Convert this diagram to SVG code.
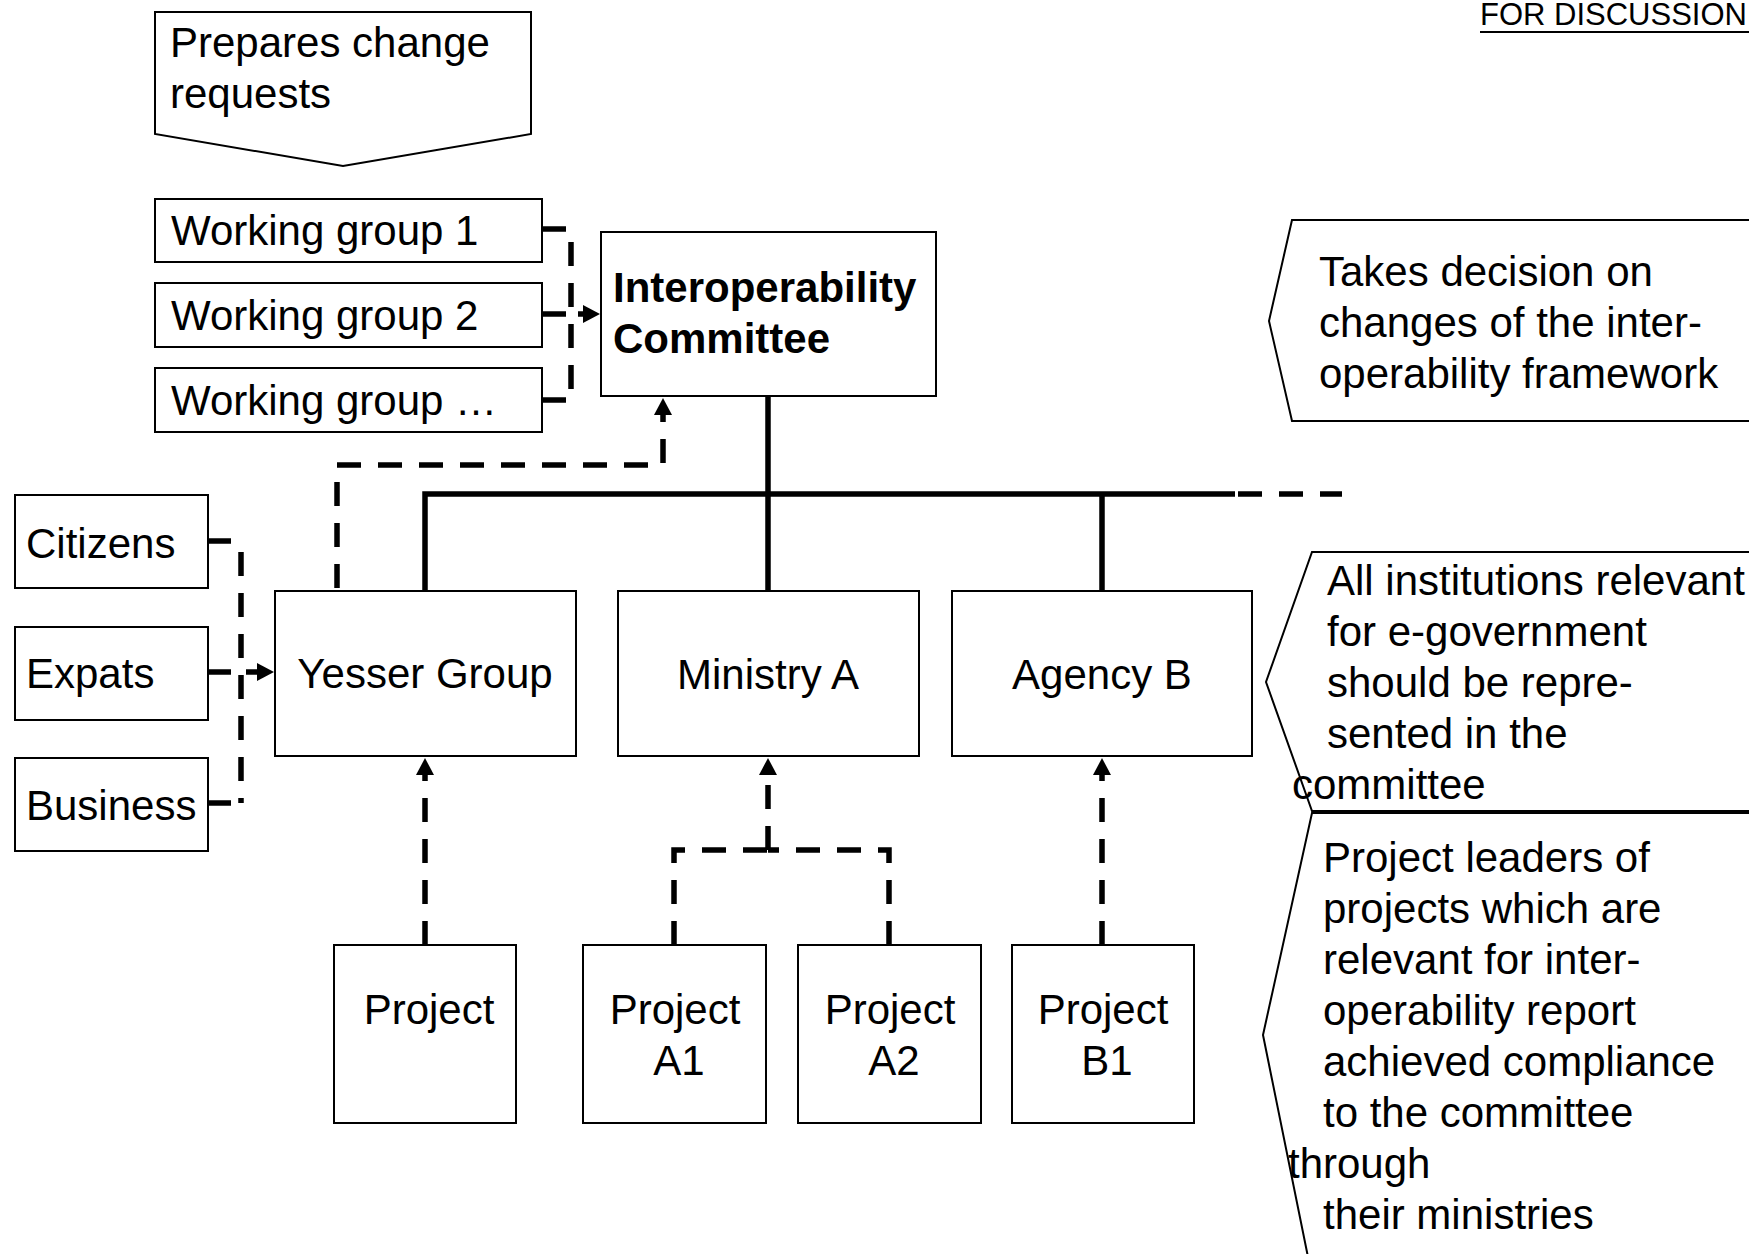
<svg xmlns="http://www.w3.org/2000/svg" width="1749" height="1254" viewBox="0 0 1749 1254">
  <style>
    .box { fill: #ffffff; stroke: #000000; stroke-width: 2; }
    .callout { fill: #ffffff; stroke: #000000; stroke-width: 2; }
    .t { font-family: "Liberation Sans", Arial, sans-serif; font-size: 42px; fill: #000000; }
    .c { text-anchor: middle; }
    .b { font-weight: bold; }
    .solid { fill: none; stroke: #000000; stroke-width: 5.5; }
    .dash { fill: none; stroke: #000000; stroke-width: 5.5; stroke-dasharray: 24 17; }
  </style>
  <defs>
    <marker id="arrow" markerUnits="userSpaceOnUse" markerWidth="18" markerHeight="18" refX="0" refY="9" orient="auto" overflow="visible">
      <path d="M0,0 L17,9 L0,18 z" fill="#000000"/>
    </marker>
  </defs>

  <rect x="0" y="0" width="1749" height="1254" fill="#ffffff"/>

  <!-- header -->
  <g id="header">
    <text x="1480" y="25" font-family="Liberation Sans, Arial, sans-serif" font-size="31" fill="#000000">FOR DISCUSSION</text>
    <line x1="1480" y1="32" x2="1749" y2="32" stroke="#000000" stroke-width="2"/>
    <text x="1728" y="1268" font-family="Liberation Sans, Arial, sans-serif" font-size="26" fill="#000000">22</text>
  </g>

  <!-- annotation callouts -->
  <g id="note-prepares">
    <polygon class="callout" points="155,12 531,12 531,134 343,166 155,134"/>
    <text class="t" x="170" y="57">Prepares change</text>
    <text class="t" x="170" y="108">requests</text>
  </g>
  <g id="note-decision">
    <polygon class="callout" points="1292,220 1760,220 1760,421 1292,421 1269,321"/>
    <text class="t" x="1319" y="286">Takes decision on</text>
    <text class="t" x="1319" y="337">changes of the inter-</text>
    <text class="t" x="1319" y="388">operability framework</text>
  </g>
  <g id="note-institutions">
    <polygon class="callout" points="1312,552 1760,552 1760,811 1312,811 1266,682"/>
    <text class="t" x="1327" y="595">All institutions relevant</text>
    <text class="t" x="1327" y="646">for e-government</text>
    <text class="t" x="1327" y="697">should be repre-</text>
    <text class="t" x="1327" y="748">sented in the</text>
    <text class="t" x="1292" y="799">committee</text>
  </g>
  <g id="note-projects">
    <polygon class="callout" points="1312,813 1760,813 1760,1257 1308,1257 1263,1035"/>
    <text class="t" x="1323" y="872">Project leaders of</text>
    <text class="t" x="1323" y="923">projects which are</text>
    <text class="t" x="1323" y="974">relevant for inter-</text>
    <text class="t" x="1323" y="1025">operability report</text>
    <text class="t" x="1323" y="1076">achieved compliance</text>
    <text class="t" x="1323" y="1127">to the committee</text>
    <text class="t" x="1288" y="1178">through</text>
    <text class="t" x="1323" y="1229">their ministries</text>
  </g>

  <!-- connectors -->
  <g id="connectors">
    <!-- working groups into the committee -->
    <path class="solid" d="M543,229 H566 M543,314 H566 M543,400 H566"/>
    <line class="dash" x1="571" y1="242" x2="571" y2="390"/>
    <path class="solid" d="M578,314 H583" marker-end="url(#arrow)"/>
    <!-- citizens / expats / business into Yesser Group -->
    <path class="solid" d="M208,541 H231 M208,672 H231 M208,803 H231"/>
    <line class="dash" x1="241" y1="552" x2="241" y2="803"/>
    <path class="solid" d="M246,672 H257" marker-end="url(#arrow)"/>
    <!-- Yesser Group up to the committee -->
    <path class="dash" stroke-dashoffset="-3" d="M337,591 V465 H663 V415" marker-end="url(#arrow)"/>
    <!-- committee hierarchy -->
    <path class="solid" d="M768,396 V494 M425,591 V494 H1235 M768,494 V591 M1102,494 V591"/>
    <path class="dash" stroke-dasharray="24 18" d="M1238,494 H1342"/>
    <!-- projects up to their owners -->
    <path class="dash" d="M425,945 V775" marker-end="url(#arrow)"/>
    <path class="dash" d="M674,945 V850 H768 M889,945 V850 H768"/>
    <path class="dash" d="M768,850 V775" marker-end="url(#arrow)"/>
    <path class="dash" d="M1102,945 V775" marker-end="url(#arrow)"/>
  </g>

  <!-- nodes -->
  <g id="wg1">
    <rect class="box" x="155" y="199" width="387" height="63"/>
    <text class="t" x="171" y="245">Working group 1</text>
  </g>
  <g id="wg2">
    <rect class="box" x="155" y="283" width="387" height="64"/>
    <text class="t" x="171" y="330">Working group 2</text>
  </g>
  <g id="wg3">
    <rect class="box" x="155" y="368" width="387" height="64"/>
    <text class="t" x="171" y="415">Working group …</text>
  </g>
  <g id="committee">
    <rect class="box" x="601" y="232" width="335" height="164"/>
    <text class="t b" x="613" y="302">Interoperability</text>
    <text class="t b" x="613" y="353">Committee</text>
  </g>
  <g id="citizens">
    <rect class="box" x="15" y="495" width="193" height="93"/>
    <text class="t" x="26" y="558">Citizens</text>
  </g>
  <g id="expats">
    <rect class="box" x="15" y="627" width="193" height="93"/>
    <text class="t" x="26" y="688">Expats</text>
  </g>
  <g id="business">
    <rect class="box" x="15" y="758" width="193" height="93"/>
    <text class="t" x="26" y="820">Business</text>
  </g>
  <g id="yesser">
    <rect class="box" x="275" y="591" width="301" height="165"/>
    <text class="t c" x="425" y="688">Yesser Group</text>
  </g>
  <g id="ministry-a">
    <rect class="box" x="618" y="591" width="301" height="165"/>
    <text class="t c" x="768" y="689">Ministry A</text>
  </g>
  <g id="agency-b">
    <rect class="box" x="952" y="591" width="300" height="165"/>
    <text class="t c" x="1102" y="689">Agency B</text>
  </g>
  <g id="project">
    <rect class="box" x="334" y="945" width="182" height="178"/>
    <text class="t c" x="429" y="1024">Project</text>
  </g>
  <g id="project-a1">
    <rect class="box" x="583" y="945" width="183" height="178"/>
    <text class="t c" x="675" y="1024">Project</text>
    <text class="t c" x="679" y="1075">A1</text>
  </g>
  <g id="project-a2">
    <rect class="box" x="798" y="945" width="183" height="178"/>
    <text class="t c" x="890" y="1024">Project</text>
    <text class="t c" x="894" y="1075">A2</text>
  </g>
  <g id="project-b1">
    <rect class="box" x="1012" y="945" width="182" height="178"/>
    <text class="t c" x="1103" y="1024">Project</text>
    <text class="t c" x="1107" y="1075">B1</text>
  </g>
</svg>
